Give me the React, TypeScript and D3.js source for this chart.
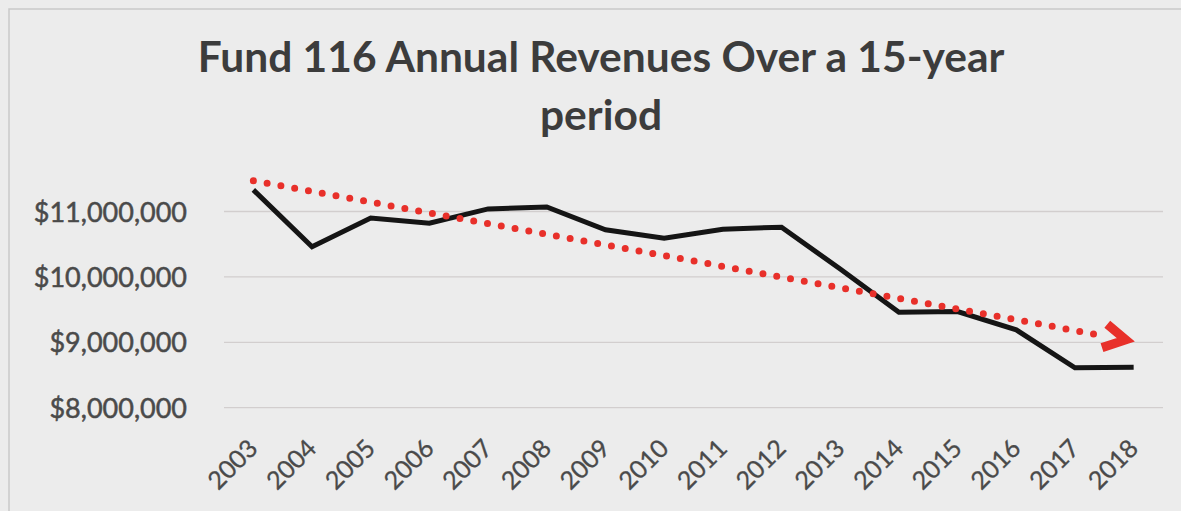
import React from "react";
import * as d3 from "d3";

const years = ["2003","2004","2005","2006","2007","2008","2009","2010","2011","2012","2013","2014","2015","2016","2017","2018"];
const revenues = [11330000, 10460000, 10900000, 10820000, 11040000, 11070000, 10720000, 10590000, 10730000, 10760000, 10120000, 9460000, 9470000, 9190000, 8610000, 8620000];
const yTicks = [8000000, 9000000, 10000000, 11000000];
const titleLines = ["Fund 116 Annual Revenues Over a 15-year", "period"];

const W = 1181, H = 511;
const plotLeft = 224, plotRight = 1163;
const plotBottom = 407.7, plotTop11 = 211.5;

export default function App() {
  const x = d3.scaleBand<string>().domain(years).range([plotLeft, plotRight]).padding(0);
  const cx = (d: string) => (x(d) as number) + x.bandwidth() / 2;
  const y = d3.scaleLinear().domain([8000000, 11000000]).range([plotBottom, plotTop11]);
  const fmt = (v: number) => "$" + d3.format(",")(v);

  const line = d3.line<number>().x((_, i) => cx(years[i])).y((v) => y(v));

  // linear trendline (least squares)
  const n = revenues.length;
  const idx = d3.range(n);
  const mx = d3.mean(idx) as number;
  const my = d3.mean(revenues) as number;
  const slope = (d3.sum(idx, (i) => (i - mx) * (revenues[i] - my))) / (d3.sum(idx, (i) => (i - mx) * (i - mx)));
  const icpt = my - slope * mx;
  const sx = cx(years[0]), sy = y(icpt);
  const tx = cx(years[n - 1]), ty = y(icpt + slope * (n - 1));
  const len = Math.hypot(tx - sx, ty - sy);
  const ux = (tx - sx) / len, uy = (ty - sy) / len;
  const nx = -uy, ny = ux;
  const ex = tx - 31 * ux, ey = ty - 31 * uy;
  const pt = (a: number, b: number) => `${tx + a * ux + b * nx},${ty + a * uy + b * ny}`;
  const arrowPts = [pt(-29, -12), pt(-8, 0), pt(-30, 12)].join(" ");

  const red = "#e8302a";
  const textCol = "#4a4a4a";

  return (
    <svg width={W} height={H} style={{ position: "absolute", left: 0, top: 0, display: "block" }}>
      <rect x={0} y={0} width={W} height={H} fill="#ececec" />
      <rect x={9} y={9} width={W + 50} height={H + 50} fill="none" stroke="#c9c9c9" strokeWidth={1.5} />
      {titleLines.map((t, i) => (
        <text key={t} x={601} y={72 + i * 58} textAnchor="middle" fontFamily="Lato" fontWeight={700} fontSize={42.5} fill="#3c3c3c">
          {t}
        </text>
      ))}
      {yTicks.map((t) => (
        <g key={t}>
          <line x1={plotLeft} x2={plotRight} y1={y(t)} y2={y(t)} stroke="#d2cece" strokeWidth={1.3} />
          <text x={187} y={y(t) + 10} textAnchor="end" fontFamily="Lato" fontSize={27} fill={textCol} stroke={textCol} strokeWidth={0.5}>
            {fmt(t)}
          </text>
        </g>
      ))}
      {years.map((yr) => (
        <text key={yr} transform={`translate(${cx(yr) + 6},${450}) rotate(-45)`} textAnchor="end" fontFamily="Lato" fontSize={25} fill={textCol} stroke={textCol} strokeWidth={0.3}>
          {yr}
        </text>
      ))}
      <path d={line(revenues) as string} fill="none" stroke="#151515" strokeWidth={5} strokeLinejoin="miter" />
      <line x1={sx} y1={sy} x2={ex} y2={ey} stroke={red} strokeWidth={7} strokeLinecap="round" strokeDasharray="0 14" />
      <polyline points={arrowPts} fill="none" stroke={red} strokeWidth={9} strokeLinejoin="miter" strokeMiterlimit={10} />
    </svg>
  );
}
